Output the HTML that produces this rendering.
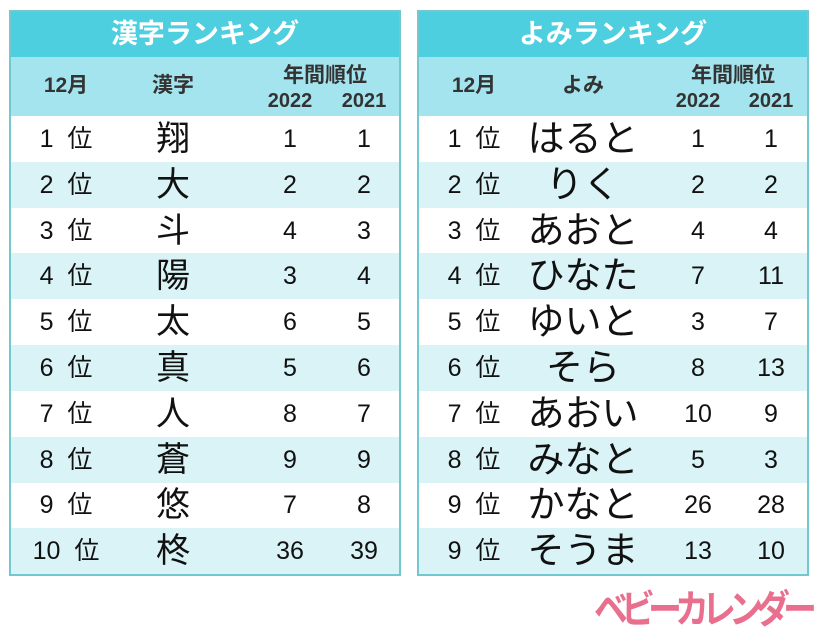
<!DOCTYPE html>
<html><head><meta charset="utf-8"><style>
body{margin:0;width:815px;height:630px;background:#fff;position:relative;font-family:"Liberation Sans","Noto Sans CJK JP",sans-serif;overflow:hidden}
.t{position:absolute;top:10px;width:388px;height:562px;border:2px solid #72c8cf;background:#fff;overflow:hidden}
.title{position:absolute;left:0;top:0;width:388px;height:45px;background:#4dcfe0;color:#fff;font-weight:bold;font-size:27px;text-align:center;line-height:45px}
.hd{position:absolute;left:0;top:45px;width:388px;height:59px;background:#a4e4ee;color:#333;font-weight:bold}
.hd div{position:absolute;text-align:center}
.row{position:absolute;left:0;width:388px;height:46px;font-size:25px;color:#111}
.row.a{background:#d9f3f7}
.row div{position:absolute;top:0;line-height:46px;text-align:center;white-space:pre}
.logo{position:absolute;left:594px;top:578px;font-size:34px;font-weight:bold;color:#e8708e;letter-spacing:-7px;white-space:nowrap;transform:scaleY(1.15);transform-origin:top left}
</style></head><body>
<div class="t" style="left:9px" id="L"></div>
<div class="t" style="left:417px" id="R"></div>
<div class="logo">ベビーカレンダー</div>
<script>
function build(el,title,col2,data,cx,bs){
 let h='<div class="title">'+title+'</div><div class="hd">'+
 '<div style="left:'+(cx[0]-40)+'px;width:80px;top:12px;font-size:21px">12月</div>'+
 '<div style="left:'+(cx[1]-50)+'px;width:100px;top:12px;font-size:21px">'+col2+'</div>'+
 '<div style="left:'+(cx[2]-30)+'px;width:130px;top:2px;font-size:21px">年間順位</div>'+
 '<div style="left:'+(cx[2]-40)+'px;width:80px;top:33px;font-size:20px">2022</div>'+
 '<div style="left:'+(cx[3]-40)+'px;width:80px;top:33px;font-size:20px">2021</div></div>';
 data.forEach((d,i)=>{
  h+='<div class="row'+(i%2?' a':'')+'" style="top:'+(104+i*45.8)+'px">'+
  '<div style="left:'+(cx[0]-50)+'px;width:100px">'+d[0]+'  位</div>'+
  '<div style="left:'+(cx[1]-90)+'px;width:180px;font-size:'+bs+'px">'+d[1]+'</div>'+
  '<div style="left:'+(cx[2]-40)+'px;width:80px">'+d[2]+'</div>'+
  '<div style="left:'+(cx[3]-40)+'px;width:80px">'+d[3]+'</div></div>';
 });
 el.innerHTML=h;
}
build(document.getElementById('L'),'漢字ランキング','漢字',[[1,'翔',1,1],[2,'大',2,2],[3,'斗',4,3],[4,'陽',3,4],[5,'太',6,5],[6,'真',5,6],[7,'人',8,7],[8,'蒼',9,9],[9,'悠',7,8],[10,'柊',36,39]],[55,162,279,353],34);
build(document.getElementById('R'),'よみランキング','よみ',[[1,'はると',1,1],[2,'りく',2,2],[3,'あおと',4,4],[4,'ひなた',7,11],[5,'ゆいと',3,7],[6,'そら',8,13],[7,'あおい',10,9],[8,'みなと',5,3],[9,'かなと',26,28],[9,'そうま',13,10]],[55,164,279,352],37);
</script>
</body></html>
